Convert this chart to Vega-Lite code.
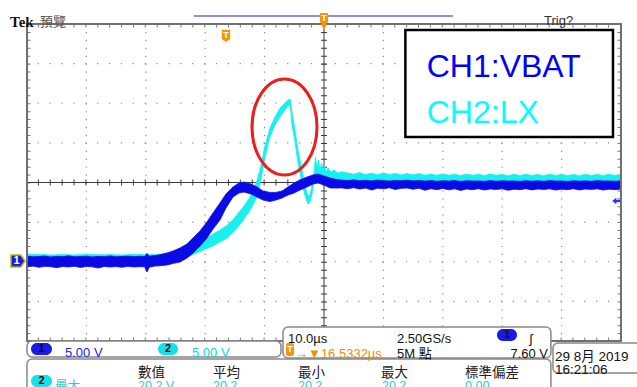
{
  "$schema": "https://vega.github.io/schema/vega-lite/v6.json",
  "width": 594,
  "height": 317,
  "autosize": {"type": "none"},
  "padding": {"left": 27, "top": 24, "right": 16, "bottom": 46},
  "background": "white",
  "config": {"view": {"stroke": null}},
  "datasets": {
    "ch1": [
      {"t":0,"lo":-0.65,"hi":0.70},{"t":1,"lo":-0.55,"hi":0.62},{"t":2,"lo":-0.70,"hi":0.66},{"t":3,"lo":-0.58,"hi":0.72},{"t":4,"lo":-0.62,"hi":0.60},{"t":5,"lo":-0.75,"hi":0.68},{"t":6,"lo":-0.60,"hi":0.64},{"t":7,"lo":-0.66,"hi":0.75},{"t":8,"lo":-0.57,"hi":0.62},{"t":9,"lo":-0.72,"hi":0.66},{"t":10,"lo":-0.60,"hi":0.70},{"t":11,"lo":-0.64,"hi":0.61},{"t":12,"lo":-0.80,"hi":0.68},{"t":13,"lo":-0.59,"hi":0.63},{"t":14,"lo":-0.67,"hi":0.74},{"t":15,"lo":-0.61,"hi":0.62},{"t":16,"lo":-0.70,"hi":0.67},{"t":17,"lo":-0.58,"hi":0.70},{"t":18,"lo":-0.66,"hi":0.63},{"t":19,"lo":-0.62,"hi":0.69},{"t":19.8,"lo":-0.64,"hi":0.66},{"t":20.2,"lo":-1.30,"hi":1.05},{"t":20.6,"lo":-0.68,"hi":0.70},{"t":21.5,"lo":-0.55,"hi":0.78},{"t":22.5,"lo":-0.50,"hi":0.90},{"t":23.57,"lo":-0.41,"hi":1.10},{"t":24.7,"lo":-0.20,"hi":1.40},{"t":25.76,"lo":-0.03,"hi":1.74},{"t":26.94,"lo":0.47,"hi":2.24},{"t":27.95,"lo":1.10,"hi":3.00},{"t":29.12,"lo":1.99,"hi":3.88},{"t":30.30,"lo":3.00,"hi":5.02},{"t":31.31,"lo":4.13,"hi":6.15},{"t":32.49,"lo":5.27,"hi":7.41},{"t":33.50,"lo":6.78,"hi":8.55},{"t":34.68,"lo":8.17,"hi":9.43},{"t":35.69,"lo":8.67,"hi":9.94},{"t":36.50,"lo":8.80,"hi":10.06},{"t":37.71,"lo":8.55,"hi":9.81},{"t":38.72,"lo":8.17,"hi":9.43},{"t":39.73,"lo":7.79,"hi":8.93},{"t":40.91,"lo":7.60,"hi":8.75},{"t":41.92,"lo":7.79,"hi":8.75},{"t":42.93,"lo":8.04,"hi":8.93},{"t":43.94,"lo":8.42,"hi":9.43},{"t":44.95,"lo":8.67,"hi":9.94},{"t":45.96,"lo":9.05,"hi":10.32},{"t":47.14,"lo":9.43,"hi":10.69},{"t":48.15,"lo":9.81,"hi":10.95},{"t":48.99,"lo":9.94,"hi":11.07},{"t":50.0,"lo":9.68,"hi":10.82},{"t":51.01,"lo":9.31,"hi":10.57},{"t":52.0,"lo":9.30,"hi":10.40},
      {"t":53,"lo":9.32,"hi":10.30},{"t":54,"lo":9.22,"hi":10.24},{"t":55,"lo":9.35,"hi":10.34},{"t":56,"lo":9.18,"hi":10.22},{"t":57,"lo":9.30,"hi":10.28},{"t":58,"lo":9.05,"hi":10.20},{"t":59,"lo":9.28,"hi":10.31},{"t":60,"lo":9.20,"hi":10.25},{"t":61,"lo":9.33,"hi":10.18},{"t":62,"lo":9.12,"hi":10.27},{"t":63,"lo":9.26,"hi":10.22},{"t":64,"lo":9.30,"hi":10.30},{"t":65,"lo":9.15,"hi":10.20},{"t":66,"lo":9.28,"hi":10.26},{"t":67,"lo":9.02,"hi":10.18},{"t":68,"lo":9.22,"hi":10.24},{"t":69,"lo":9.10,"hi":10.15},{"t":70,"lo":9.25,"hi":10.22},{"t":71,"lo":9.08,"hi":10.18},{"t":72,"lo":9.20,"hi":10.25},{"t":73,"lo":9.00,"hi":10.14},{"t":74,"lo":9.18,"hi":10.22},{"t":75,"lo":9.10,"hi":10.18},{"t":76,"lo":9.22,"hi":10.20},{"t":77,"lo":9.05,"hi":10.15},{"t":78,"lo":9.18,"hi":10.24},{"t":79,"lo":9.12,"hi":10.16},{"t":80,"lo":9.20,"hi":10.22},{"t":81,"lo":9.02,"hi":10.18},{"t":82,"lo":9.16,"hi":10.20},{"t":83,"lo":9.10,"hi":10.14},{"t":84,"lo":9.22,"hi":10.23},{"t":85,"lo":9.06,"hi":10.17},{"t":86,"lo":9.18,"hi":10.21},{"t":87,"lo":9.12,"hi":10.15},{"t":88,"lo":9.20,"hi":10.24},{"t":89,"lo":9.04,"hi":10.18},{"t":90,"lo":9.16,"hi":10.20},{"t":91,"lo":9.10,"hi":10.14},{"t":92,"lo":9.22,"hi":10.22},{"t":93,"lo":9.06,"hi":10.17},{"t":94,"lo":9.18,"hi":10.21},{"t":95,"lo":9.12,"hi":10.15},{"t":96,"lo":9.20,"hi":10.24},{"t":97,"lo":9.04,"hi":10.18},{"t":98,"lo":9.16,"hi":10.20},{"t":99,"lo":9.10,"hi":10.16},{"t":100,"lo":9.18,"hi":10.22}
    ],
    "ch2": [
      {"t":0,"lo":0.10,"hi":0.88},{"t":2,"lo":0.05,"hi":0.95},{"t":4,"lo":0.12,"hi":0.85},{"t":6,"lo":0.08,"hi":0.92},{"t":8,"lo":0.10,"hi":0.86},{"t":10,"lo":0.04,"hi":0.96},{"t":12,"lo":0.12,"hi":0.88},{"t":14,"lo":0.08,"hi":0.90},{"t":16,"lo":0.10,"hi":0.85},{"t":18,"lo":0.06,"hi":0.94},{"t":20,"lo":0.10,"hi":0.88},{"t":22,"lo":0.12,"hi":0.92},{"t":24,"lo":0.15,"hi":1.10},{"t":25.76,"lo":0.30,"hi":1.45},{"t":26.94,"lo":0.60,"hi":1.70},{"t":27.95,"lo":0.90,"hi":2.00},{"t":29.12,"lo":1.30,"hi":2.60},{"t":30.30,"lo":1.70,"hi":3.00},{"t":31.31,"lo":2.00,"hi":3.50},{"t":32.49,"lo":2.50,"hi":4.00},{"t":33.67,"lo":3.00,"hi":4.60},{"t":34.68,"lo":3.70,"hi":5.30},{"t":35.86,"lo":4.70,"hi":6.40},{"t":36.70,"lo":5.60,"hi":7.20},{"t":37.54,"lo":6.50,"hi":8.17},{"t":38.72,"lo":8.17,"hi":10.20},{"t":39.40,"lo":10.40,"hi":12.20},{"t":40.07,"lo":13.20,"hi":14.70},{"t":40.91,"lo":15.74,"hi":16.88},{"t":41.75,"lo":17.26,"hi":18.27},{"t":42.59,"lo":18.27,"hi":19.40},{"t":43.43,"lo":19.15,"hi":20.03},{"t":44.11,"lo":19.78,"hi":20.54},{"t":44.36,"lo":19.40,"hi":20.41},{"t":44.61,"lo":17.26,"hi":18.90},{"t":45.12,"lo":15.11,"hi":16.62},{"t":45.62,"lo":12.46,"hi":14.10},{"t":46.30,"lo":9.94,"hi":11.58},{"t":46.80,"lo":8.30,"hi":9.56},{"t":47.31,"lo":7.29,"hi":8.30},{"t":47.64,"lo":7.54,"hi":8.42},{"t":47.98,"lo":8.55,"hi":9.56},{"t":48.32,"lo":10.06,"hi":11.32},{"t":48.57,"lo":10.82,"hi":13.22},{"t":48.82,"lo":10.57,"hi":11.83},{"t":49.07,"lo":10.69,"hi":12.84},{"t":49.33,"lo":10.32,"hi":11.58},{"t":49.58,"lo":10.57,"hi":12.46},{"t":49.83,"lo":10.32,"hi":11.45},{"t":50.08,"lo":10.44,"hi":12.21},{"t":50.34,"lo":10.32,"hi":11.32},{"t":50.67,"lo":10.32,"hi":11.83},{"t":51.18,"lo":10.19,"hi":11.32},{"t":51.68,"lo":10.19,"hi":11.58},{"t":52.36,"lo":10.19,"hi":11.20},{"t":53.0,"lo":10.19,"hi":11.36},
      {"t":54,"lo":10.15,"hi":11.20},{"t":55,"lo":10.20,"hi":11.05},{"t":56,"lo":10.12,"hi":11.25},{"t":57,"lo":10.18,"hi":11.02},{"t":58,"lo":10.14,"hi":11.18},{"t":59,"lo":10.20,"hi":10.98},{"t":60,"lo":10.12,"hi":11.22},{"t":61,"lo":10.16,"hi":11.00},{"t":62,"lo":10.12,"hi":11.15},{"t":63,"lo":10.18,"hi":10.95},{"t":64,"lo":10.10,"hi":11.12},{"t":65,"lo":10.16,"hi":10.96},{"t":66,"lo":10.10,"hi":11.14},{"t":67,"lo":10.15,"hi":10.92},{"t":68,"lo":10.10,"hi":11.08},{"t":69,"lo":10.14,"hi":10.90},{"t":70,"lo":10.08,"hi":11.10},{"t":71,"lo":10.14,"hi":10.92},{"t":72,"lo":10.08,"hi":11.05},{"t":73,"lo":10.12,"hi":10.88},{"t":74,"lo":10.08,"hi":11.06},{"t":75,"lo":10.12,"hi":10.90},{"t":76,"lo":10.06,"hi":11.04},{"t":77,"lo":10.12,"hi":10.88},{"t":78,"lo":10.06,"hi":11.06},{"t":79,"lo":10.10,"hi":10.90},{"t":80,"lo":10.06,"hi":11.02},{"t":81,"lo":10.10,"hi":10.86},{"t":82,"lo":10.06,"hi":11.04},{"t":83,"lo":10.10,"hi":10.88},{"t":84,"lo":10.06,"hi":11.05},{"t":85,"lo":10.10,"hi":10.88},{"t":86,"lo":10.06,"hi":11.02},{"t":87,"lo":10.10,"hi":10.86},{"t":88,"lo":10.06,"hi":11.06},{"t":89,"lo":10.10,"hi":10.88},{"t":90,"lo":10.06,"hi":11.04},{"t":91,"lo":10.10,"hi":10.87},{"t":92,"lo":10.06,"hi":11.02},{"t":93,"lo":10.10,"hi":10.86},{"t":94,"lo":10.06,"hi":11.05},{"t":95,"lo":10.10,"hi":10.88},{"t":96,"lo":10.06,"hi":11.03},{"t":97,"lo":10.10,"hi":10.87},{"t":98,"lo":10.06,"hi":11.05},{"t":99,"lo":10.10,"hi":10.88},{"t":100,"lo":10.06,"hi":11.02}
    ]
  },
  "layer": [
    {
      "data": {"values": [{"t": 10}, {"t": 20}, {"t": 30}, {"t": 40}, {"t": 60}, {"t": 70}, {"t": 80}, {"t": 90}]},
      "mark": {"type": "rule", "color": "#8a8a8a", "strokeWidth": 1.2, "strokeDash": [1.2, 6.725]},
      "encoding": {"x": {"field": "t", "type": "quantitative", "scale": {"domain": [0, 100], "nice": false, "zero": false}, "axis": null}}
    },
    {
      "data": {"values": [{"v": -5}, {"v": 0}, {"v": 5}, {"v": 15}, {"v": 20}, {"v": 25}]},
      "mark": {"type": "rule", "color": "#8a8a8a", "strokeWidth": 1.2, "strokeDash": [1.2, 10.68]},
      "encoding": {"y": {"field": "v", "type": "quantitative", "scale": {"domain": [-10, 30], "nice": false, "zero": false}, "axis": null}}
    },
    {
      "data": {"values": [{"v": 30}, {"v": -10}]},
      "mark": {"type": "rule", "color": "#777777", "strokeWidth": 7, "strokeDash": [1, 10.88], "clip": true},
      "encoding": {"y": {"field": "v", "type": "quantitative", "axis": null}}
    },
    {
      "data": {"values": [{"t": 0}, {"t": 100}]},
      "mark": {"type": "rule", "color": "#777777", "strokeWidth": 7, "strokeDash": [1, 6.925], "clip": true},
      "encoding": {"x": {"field": "t", "type": "quantitative", "axis": null}}
    },
    {
      "data": {"values": [{"v": 10}]},
      "mark": {"type": "rule", "color": "#3a3a3a", "strokeWidth": 1},
      "encoding": {"y": {"field": "v", "type": "quantitative", "axis": null}}
    },
    {
      "data": {"values": [{"t": 50}]},
      "mark": {"type": "rule", "color": "#3a3a3a", "strokeWidth": 1},
      "encoding": {"x": {"field": "t", "type": "quantitative", "axis": null}}
    },
    {
      "data": {"values": [{"v": 10}]},
      "mark": {"type": "rule", "color": "#3a3a3a", "strokeWidth": 6, "strokeDash": [1, 10.88]},
      "encoding": {"y": {"field": "v", "type": "quantitative", "axis": null}}
    },
    {
      "data": {"values": [{"t": 50}]},
      "mark": {"type": "rule", "color": "#3a3a3a", "strokeWidth": 6, "strokeDash": [1, 6.925]},
      "encoding": {"x": {"field": "t", "type": "quantitative", "axis": null}}
    },
    {
      "data": {"name": "ch2"},
      "mark": {"type": "area", "color": "#18f0f0", "stroke": "#18f0f0", "strokeWidth": 0.8, "opacity": 1},
      "encoding": {
        "x": {"field": "t", "type": "quantitative", "axis": null},
        "y": {"field": "lo", "type": "quantitative", "axis": null},
        "y2": {"field": "hi"}
      }
    },
    {
      "data": {"name": "ch1"},
      "mark": {"type": "area", "color": "#0a0ae6", "stroke": "#0a0ae6", "strokeWidth": 0.8, "opacity": 1},
      "encoding": {
        "x": {"field": "t", "type": "quantitative", "axis": null},
        "y": {"field": "lo", "type": "quantitative", "axis": null},
        "y2": {"field": "hi"}
      }
    },
    {
      "data": {"values": [{"t1": 0, "t2": 100, "v1": -10, "v2": 30}]},
      "mark": {"type": "rect", "filled": false, "color": "#707070", "strokeWidth": 2},
      "encoding": {"x": {"field": "t1", "type": "quantitative", "axis": null}, "x2": {"field": "t2"}, "y": {"field": "v1", "type": "quantitative", "axis": null}, "y2": {"field": "v2"}}
    },
    {
      "data": {"values": [{"t": 43.35, "v": 17.0}]},
      "mark": {"type": "point", "shape": "M -0.677 0 A 0.677 1 0 1 1 0.677 0 A 0.677 1 0 1 1 -0.677 0 Z", "size": 9216, "filled": false, "color": "#ee1c1c", "strokeWidth": 3, "opacity": 1},
      "encoding": {"x": {"field": "t", "type": "quantitative", "axis": null}, "y": {"field": "v", "type": "quantitative", "axis": null}}
    },
    {
      "data": {"values": [{"t1": 63.7, "t2": 98.65, "v1": 15.74, "v2": 29.24}]},
      "mark": {"type": "rect", "fill": "white", "stroke": "black", "strokeWidth": 2.5},
      "encoding": {"x": {"field": "t1", "type": "quantitative", "axis": null}, "x2": {"field": "t2"}, "y": {"field": "v1", "type": "quantitative", "axis": null}, "y2": {"field": "v2"}}
    },
    {
      "data": {"values": [{"t": 67.3, "v": 23.31, "label": "CH1:VBAT"}]},
      "mark": {"type": "text", "align": "left", "baseline": "alphabetic", "font": "Liberation Sans", "fontSize": 32, "color": "#0000ff"},
      "encoding": {"x": {"field": "t", "type": "quantitative", "axis": null}, "y": {"field": "v", "type": "quantitative", "axis": null}, "text": {"field": "label"}}
    },
    {
      "data": {"values": [{"t": 67.3, "v": 17.47, "label": "CH2:LX"}]},
      "mark": {"type": "text", "align": "left", "baseline": "alphabetic", "font": "Liberation Sans", "fontSize": 32, "color": "#00ffff"},
      "encoding": {"x": {"field": "t", "type": "quantitative", "axis": null}, "y": {"field": "v", "type": "quantitative", "axis": null}, "text": {"field": "label"}}
    },
    {
      "data": {"values": [{"t1": 28.1, "t2": 71.7, "v": 31.0}]},
      "mark": {"type": "rule", "color": "#8c8cf0", "strokeWidth": 2},
      "encoding": {"x": {"field": "t1", "type": "quantitative", "axis": null}, "x2": {"field": "t2"}, "y": {"field": "v", "type": "quantitative", "axis": null}}
    },
    {
      "data": {"values": [{"t": -2.86, "v": 30.19, "label": "Tek"}]},
      "mark": {"type": "text", "align": "left", "font": "Liberation Serif", "fontWeight": "bold", "fontSize": 15, "color": "#111111"},
      "encoding": {"x": {"field": "t", "type": "quantitative", "axis": null}, "y": {"field": "v", "type": "quantitative", "axis": null}, "text": {"field": "label"}}
    },
    {
      "data": {"values": [{"t": 2.19, "v": 30.19, "label": "預覽"}]},
      "mark": {"type": "text", "align": "left", "font": "Noto Sans CJK TC", "fontSize": 13, "color": "#555555"},
      "encoding": {"x": {"field": "t", "type": "quantitative", "axis": null}, "y": {"field": "v", "type": "quantitative", "axis": null}, "text": {"field": "label"}}
    },
    {
      "data": {"values": [{"t": 87.04, "v": 30.44, "label": "Trig?"}]},
      "mark": {"type": "text", "align": "left", "font": "Liberation Sans", "fontSize": 13, "color": "#333333"},
      "encoding": {"x": {"field": "t", "type": "quantitative", "axis": null}, "y": {"field": "v", "type": "quantitative", "axis": null}, "text": {"field": "label"}}
    },
    {
      "data": {"values": [{"t": 50, "v": 29.62}]},
      "mark": {"type": "point", "shape": "triangle-down", "size": 40, "filled": true, "color": "#f0960f", "opacity": 1},
      "encoding": {"x": {"field": "t", "type": "quantitative", "axis": null}, "y": {"field": "v", "type": "quantitative", "axis": null}}
    },
    {
      "data": {"values": [{"t": 50, "v": 30.63}, {"t": 33.5, "v": 28.49}]},
      "mark": {"type": "point", "shape": "M -0.68 -1 L 0.68 -1 L 0.68 0.5 L 0 1 L -0.68 0.5 Z", "size": 150, "filled": true, "color": "#f0960f", "opacity": 1},
      "encoding": {"x": {"field": "t", "type": "quantitative", "axis": null}, "y": {"field": "v", "type": "quantitative", "axis": null}}
    },
    {
      "data": {"values": [{"t": 50, "v": 30.63, "label": "T"}, {"t": 33.5, "v": 28.49, "label": "T"}]},
      "mark": {"type": "text", "align": "center", "baseline": "middle", "dy": -1, "font": "Liberation Sans", "fontWeight": "bold", "fontSize": 9, "color": "white"},
      "encoding": {"x": {"field": "t", "type": "quantitative", "axis": null}, "y": {"field": "v", "type": "quantitative", "axis": null}, "text": {"field": "label"}}
    },
    {
      "data": {"values": [{"t": -1.52, "v": 0.09}]},
      "mark": {"type": "point", "shape": "M -1 -0.85 L 0.4 -0.85 L 1 0 L 0.4 0.85 L -1 0.85 Z", "size": 196, "filled": true, "color": "#1a1ae6", "stroke": "#b8b800", "strokeWidth": 1.5, "opacity": 1},
      "encoding": {"x": {"field": "t", "type": "quantitative", "axis": null}, "y": {"field": "v", "type": "quantitative", "axis": null}}
    },
    {
      "data": {"values": [{"t": -1.75, "v": 0.09, "label": "1"}]},
      "mark": {"type": "text", "align": "center", "baseline": "middle", "font": "Liberation Sans", "fontWeight": "bold", "fontSize": 11, "color": "white"},
      "encoding": {"x": {"field": "t", "type": "quantitative", "axis": null}, "y": {"field": "v", "type": "quantitative", "axis": null}, "text": {"field": "label"}}
    },
    {
      "data": {"values": [{"t": 99.2, "v": 7.67}]},
      "mark": {"type": "point", "shape": "M -1 0 L 0 -0.8 L 0 -0.3 L 1 -0.3 L 1 0.3 L 0 0.3 L 0 0.8 Z", "size": 64, "filled": true, "color": "#3030ff", "opacity": 1},
      "encoding": {"x": {"field": "t", "type": "quantitative", "axis": null}, "y": {"field": "v", "type": "quantitative", "axis": null}}
    },
    {
      "data": {"values": [
        {"t1": 0, "t2": 42.76, "v1": -10.0, "v2": -12.02},
        {"t1": 43.1, "t2": 88.2, "v1": -8.23, "v2": -12.15},
        {"t1": 88.55, "t2": 104, "v1": -10.25, "v2": -14.04},
        {"t1": 0, "t2": 88.2, "v1": -12.27, "v2": -16.8}
      ]},
      "mark": {"type": "rect", "fill": "white", "stroke": "#888888", "strokeWidth": 1.5, "cornerRadius": 5},
      "encoding": {"x": {"field": "t1", "type": "quantitative", "axis": null}, "x2": {"field": "t2"}, "y": {"field": "v1", "type": "quantitative", "axis": null}, "y2": {"field": "v2"}}
    },
    {
      "data": {"values": [
        {"t1": 0.67, "t2": 4.21, "v1": -10.25, "v2": -11.77},
        {"t1": 79.12, "t2": 82.49, "v1": -8.49, "v2": -10.0}
      ]},
      "mark": {"type": "rect", "fill": "#1a1ae6", "cornerRadius": 6},
      "encoding": {"x": {"field": "t1", "type": "quantitative", "axis": null}, "x2": {"field": "t2"}, "y": {"field": "v1", "type": "quantitative", "axis": null}, "y2": {"field": "v2"}}
    },
    {
      "data": {"values": [
        {"t1": 22.05, "t2": 25.42, "v1": -10.25, "v2": -11.77},
        {"t1": 0.67, "t2": 4.21, "v1": -14.29, "v2": -15.8}
      ]},
      "mark": {"type": "rect", "fill": "#18e0e8", "cornerRadius": 6},
      "encoding": {"x": {"field": "t1", "type": "quantitative", "axis": null}, "x2": {"field": "t2"}, "y": {"field": "v1", "type": "quantitative", "axis": null}, "y2": {"field": "v2"}}
    },
    {
      "data": {"values": [{"t1": 43.6, "t2": 44.95, "v1": -10.25, "v2": -11.89}]},
      "mark": {"type": "rect", "fill": "#f0960f", "cornerRadius": 2},
      "encoding": {"x": {"field": "t1", "type": "quantitative", "axis": null}, "x2": {"field": "t2"}, "y": {"field": "v1", "type": "quantitative", "axis": null}, "y2": {"field": "v2"}}
    },
    {
      "data": {"values": [
        {"t": 2.44, "v": -11.01, "label": "1"},
        {"t": 23.74, "v": -11.01, "label": "2"},
        {"t": 80.8, "v": -9.24, "label": "1"},
        {"t": 2.44, "v": -15.05, "label": "2"}
      ]},
      "mark": {"type": "text", "align": "center", "baseline": "middle", "font": "Liberation Sans", "fontWeight": "bold", "fontSize": 11, "color": "#111111"},
      "encoding": {"x": {"field": "t", "type": "quantitative", "axis": null}, "y": {"field": "v", "type": "quantitative", "axis": null}, "text": {"field": "label"}}
    },
    {
      "data": {"values": [{"t": 44.27, "v": -11.07, "label": "T"}]},
      "mark": {"type": "text", "align": "center", "baseline": "middle", "font": "Liberation Sans", "fontWeight": "bold", "fontSize": 9, "color": "white"},
      "encoding": {"x": {"field": "t", "type": "quantitative", "axis": null}, "y": {"field": "v", "type": "quantitative", "axis": null}, "text": {"field": "label"}}
    },
    {
      "data": {"values": [
        {"t": 43.94, "v": -9.75, "label": "10.0µs"},
        {"t": 62.29, "v": -9.75, "label": "2.50GS/s"},
        {"t": 84.6, "v": -9.75, "label": "ʃ"},
        {"t": 62.29, "v": -11.64, "label": "5M 點"}
      ]},
      "mark": {"type": "text", "align": "left", "font": "Liberation Sans, Noto Sans CJK TC", "fontSize": 13, "color": "#111111"},
      "encoding": {"x": {"field": "t", "type": "quantitative", "axis": null}, "y": {"field": "v", "type": "quantitative", "axis": null}, "text": {"field": "label"}}
    },
    {
      "data": {"values": [
        {"t": 88.89, "v": -11.96, "label": "29 8月  2019"},
        {"t": 88.89, "v": -13.62, "label": "16:21:06"}
      ]},
      "mark": {"type": "text", "align": "left", "font": "Liberation Sans, Noto Sans CJK TC", "fontSize": 13.5, "color": "#111111"},
      "encoding": {"x": {"field": "t", "type": "quantitative", "axis": null}, "y": {"field": "v", "type": "quantitative", "axis": null}, "text": {"field": "label"}}
    },
    {
      "data": {"values": [{"t": 87.71, "v": -11.64, "label": "7.60 V"}]},
      "mark": {"type": "text", "align": "right", "font": "Liberation Sans", "fontSize": 13, "color": "#111111"},
      "encoding": {"x": {"field": "t", "type": "quantitative", "axis": null}, "y": {"field": "v", "type": "quantitative", "axis": null}, "text": {"field": "label"}}
    },
    {
      "data": {"values": [
        {"t": 18.69, "v": -14.1, "label": "數值"},
        {"t": 31.31, "v": -14.1, "label": "平均"},
        {"t": 45.62, "v": -14.1, "label": "最小"},
        {"t": 59.6, "v": -14.1, "label": "最大"},
        {"t": 73.74, "v": -14.1, "label": "標準偏差"}
      ]},
      "mark": {"type": "text", "align": "left", "font": "Noto Sans CJK TC", "fontSize": 13.5, "color": "#222222"},
      "encoding": {"x": {"field": "t", "type": "quantitative", "axis": null}, "y": {"field": "v", "type": "quantitative", "axis": null}, "text": {"field": "label"}}
    },
    {
      "data": {"values": [{"t": 6.40, "v": -11.51, "label": "5.00 V"}]},
      "mark": {"type": "text", "align": "left", "font": "Liberation Sans", "fontSize": 13, "color": "#2020e0"},
      "encoding": {"x": {"field": "t", "type": "quantitative", "axis": null}, "y": {"field": "v", "type": "quantitative", "axis": null}, "text": {"field": "label"}}
    },
    {
      "data": {"values": [
        {"t": 27.78, "v": -11.51, "label": "5.00 V"}
      ]},
      "mark": {"type": "text", "align": "left", "font": "Liberation Sans", "fontSize": 13, "color": "#12d4dc"},
      "encoding": {"x": {"field": "t", "type": "quantitative", "axis": null}, "y": {"field": "v", "type": "quantitative", "axis": null}, "text": {"field": "label"}}
    },
    {
      "data": {"values": [
        {"t": 4.71, "v": -15.68, "label": "最大"},
        {"t": 18.69, "v": -15.68, "label": "20.2 V"},
        {"t": 31.31, "v": -15.68, "label": "20.2"},
        {"t": 45.62, "v": -15.68, "label": "20.2"},
        {"t": 59.76, "v": -15.68, "label": "20.2"},
        {"t": 73.74, "v": -15.68, "label": "0.00"}
      ]},
      "mark": {"type": "text", "align": "left", "font": "Liberation Sans, Noto Sans CJK TC", "fontSize": 12.5, "color": "#12d4dc"},
      "encoding": {"x": {"field": "t", "type": "quantitative", "axis": null}, "y": {"field": "v", "type": "quantitative", "axis": null}, "text": {"field": "label"}}
    },
    {
      "data": {"values": [{"t": 45.12, "v": -11.64, "label": "→▼16.5332µs"}]},
      "mark": {"type": "text", "align": "left", "font": "Liberation Sans, DejaVu Sans", "fontSize": 13, "color": "#f08c00"},
      "encoding": {"x": {"field": "t", "type": "quantitative", "axis": null}, "y": {"field": "v", "type": "quantitative", "axis": null}, "text": {"field": "label"}}
    }
  ]
}
